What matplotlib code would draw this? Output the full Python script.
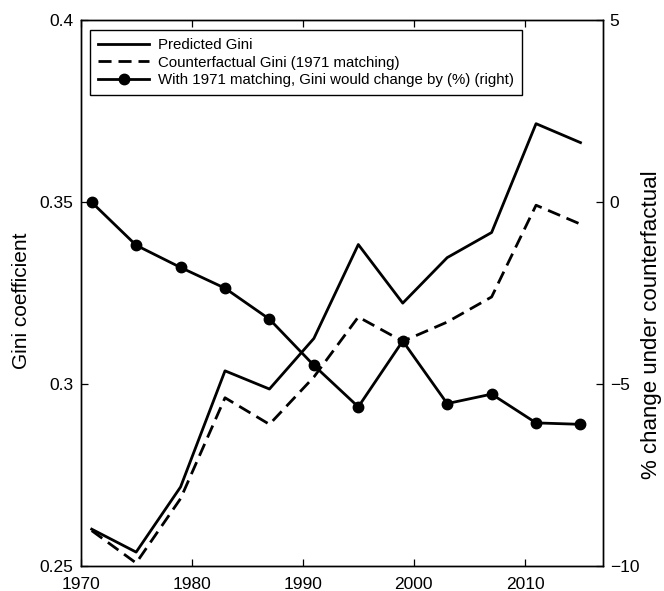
import matplotlib
matplotlib.use("Agg")
import matplotlib.pyplot as plt

plt.rcParams['font.family'] = ['Liberation Sans', 'DejaVu Sans']

years = [1971, 1975, 1979, 1983, 1987, 1991, 1995, 1999, 2003, 2007, 2011, 2015]
predicted_gini = [0.2602, 0.2539, 0.2718, 0.3037, 0.2987, 0.3126, 0.3384, 0.3223,
                  0.3348, 0.3417, 0.3716, 0.3664]
counterfactual_gini = [0.2598, 0.2509, 0.2686, 0.2963, 0.2890, 0.3020, 0.3185, 0.3118,
                       0.3171, 0.3240, 0.3492, 0.3440]
pct_change = [0.0, -1.18, -1.79, -2.36, -3.21, -4.48, -5.62, -3.81, -5.53, -5.27, -6.06, -6.10]

left_ticks = [0.25, 0.3, 0.35, 0.4]
left_ticklabels = ['0.25', '0.3', '0.35', '0.4']
right_ticks = [-10, -5, 0, 5]
right_ticklabels = ['\u221210', '\u22125', '0', '5']
x_ticks = [1970, 1980, 1990, 2000, 2010]

fig = plt.figure(figsize=(6.64, 5.91), dpi=100)
# axes box: x 80.6..602.7 px, y 20.3..566.3 px (from top)
ax = fig.add_axes([80.6 / 664, (591 - 566.3) / 591, (602.7 - 80.6) / 664, (566.3 - 20.3) / 591])
ax2 = ax.twinx()

lw = 2.0
l1, = ax.plot(years, predicted_gini, color='black', lw=lw, label='Predicted Gini')
l2, = ax.plot(years, counterfactual_gini, color='black', lw=lw, dashes=(4.7, 2.5),
              label='Counterfactual Gini (1971 matching)')
l3, = ax2.plot(years, pct_change, color='black', lw=lw, marker='o', markersize=7.5,
               label='With 1971 matching, Gini would change by (%) (right)')

ax.set_xlim(1970, 2017)
ax.set_ylim(0.25, 0.4)
ax2.set_ylim(-10, 5)

ax.set_xticks(x_ticks)
ax.set_xticklabels([str(x) for x in x_ticks])
ax.set_yticks(left_ticks)
ax.set_yticklabels(left_ticklabels)
ax2.set_yticks(right_ticks)
ax2.set_yticklabels(right_ticklabels)

ax.tick_params(axis='x', direction='in', top=True, length=5, width=0.9,
               labelsize=12.5, pad=8)
ax.tick_params(axis='y', direction='in', length=5, width=0.9, labelsize=12.5, pad=5)
ax2.tick_params(axis='y', direction='in', length=5, width=0.9, labelsize=12.5, pad=5)

for a in (ax, ax2):
    for s in a.spines.values():
        s.set_linewidth(1.0)

ax.set_ylabel('Gini coefficient', fontsize=15, va='center', ha='center')
ax.yaxis.set_label_coords((21.7 - 80.6) / 522.1, (566.3 - 301) / 546)
ax2.set_ylabel('% change under counterfactual', fontsize=16, va='center', ha='center',
               rotation=90)
ax2.yaxis.set_label_coords((652 - 80.6) / 522.1, (566.3 - 325) / 546)

leg = ax2.legend(handles=[l1, l2, l3], loc='upper left',
                 bbox_to_anchor=((90 - 80.6) / 522.1, (566.3 - 30) / 546),
                 borderaxespad=0, fontsize=10.8, handlelength=3.4, handletextpad=0.55,
                 labelspacing=0.22, borderpad=0.55, fancybox=False, framealpha=1,
                 edgecolor='black')
leg.get_frame().set_linewidth(1.0)

fig.savefig('out.png', dpi=100)
